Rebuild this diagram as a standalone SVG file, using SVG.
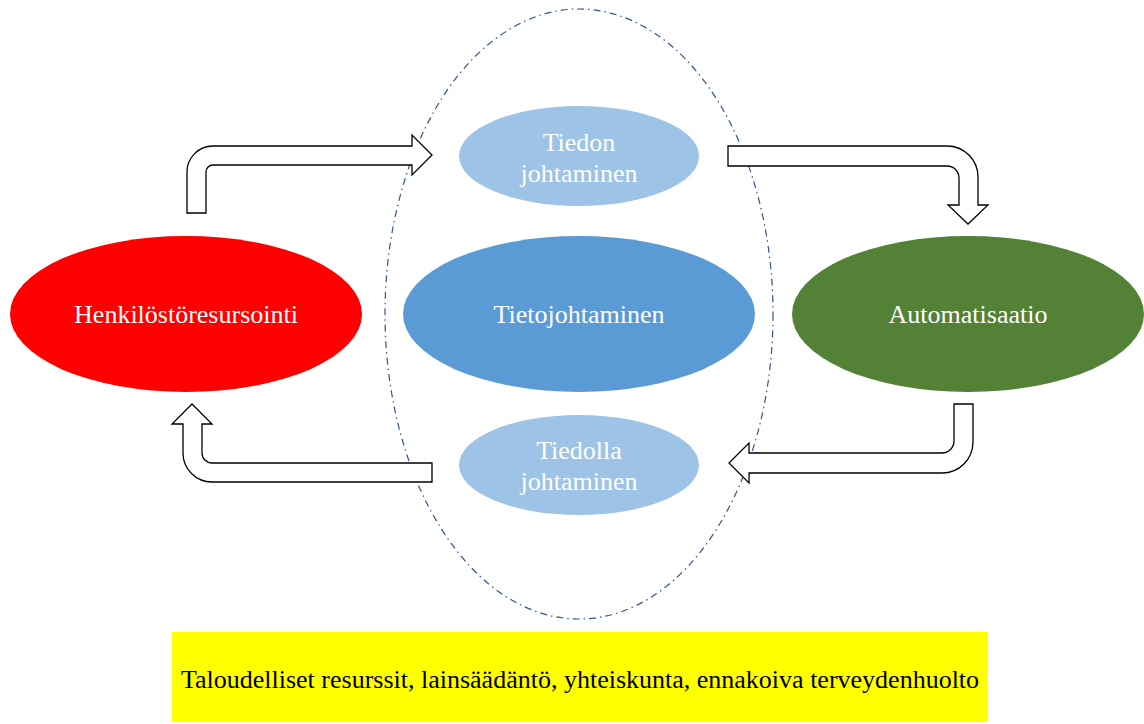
<svg xmlns="http://www.w3.org/2000/svg" width="1144" height="724" viewBox="0 0 1144 724">
<style>
.lbl{font-family:"Liberation Serif","Times New Roman",serif;font-size:26px;fill:#ffffff;text-anchor:middle}
.arrow{fill:#ffffff;stroke:#000000;stroke-width:1.3;stroke-linejoin:miter}
.big{fill:none;stroke:#2F5597;stroke-width:1.2;stroke-dasharray:7 4 1.5 4}
</style>
<rect width="1144" height="724" fill="#ffffff"/>
<g id="frame">
<ellipse class="big" cx="579" cy="314" rx="194" ry="305"/>
</g>
<g id="connectors">
<path class="arrow" d="M187,213 L187,172 A26,26 0 0 1 213,146 L412,146 L412,135 L432,155 L412,175 L412,165 L213,165 A7,7 0 0 0 206,172 L206,213 Z"/>
<path class="arrow" d="M728,146 L947,146 A31,31 0 0 1 978,177 L978,205 L988,205 L968,224 L948,205 L959,205 L959,178 A12,12 0 0 0 947,166 L728,166 Z"/>
<path class="arrow" d="M432,463 L212,463 A10,10 0 0 1 202,453 L202,424 L212,424 L192,404 L172,424 L183,424 L183,453 A29,29 0 0 0 212,482 L432,482 Z"/>
<path class="arrow" d="M954,404 L973,404 L973,442 A31,31 0 0 1 942,473 L749,473 L749,483 L729,463 L749,443 L749,453 L942,453 A12,12 0 0 0 954,441 Z"/>
</g>
<g id="henkilosto">
<ellipse cx="186" cy="314" rx="176" ry="78" fill="#FF0000"/>
<text class="lbl" x="186" y="323">Henkilöstöresursointi</text>
</g>
<g id="tietojohtaminen">
<ellipse cx="579" cy="314" rx="176" ry="78" fill="#5B9BD5"/>
<text class="lbl" x="579" y="323">Tietojohtaminen</text>
</g>
<g id="automatisaatio">
<ellipse cx="968" cy="314" rx="176" ry="78" fill="#538135"/>
<text class="lbl" x="968" y="323">Automatisaatio</text>
</g>
<g id="tiedon">
<ellipse cx="579" cy="156" rx="120" ry="50" fill="#9DC3E6"/>
<text class="lbl" x="579" y="151">Tiedon</text>
<text class="lbl" x="579" y="182">johtaminen</text>
</g>
<g id="tiedolla">
<ellipse cx="579" cy="465" rx="120" ry="50" fill="#9DC3E6"/>
<text class="lbl" x="579" y="459">Tiedolla</text>
<text class="lbl" x="579" y="490">johtaminen</text>
</g>
<g id="konteksti">
<rect x="172" y="632" width="816" height="90" fill="#FFFF00"/>
<text x="580" y="688" style="font-family:'Liberation Serif','Times New Roman',serif;font-size:26px;fill:#000000;text-anchor:middle">Taloudelliset resurssit, lainsäädäntö, yhteiskunta, ennakoiva terveydenhuolto</text>
</g>
</svg>
